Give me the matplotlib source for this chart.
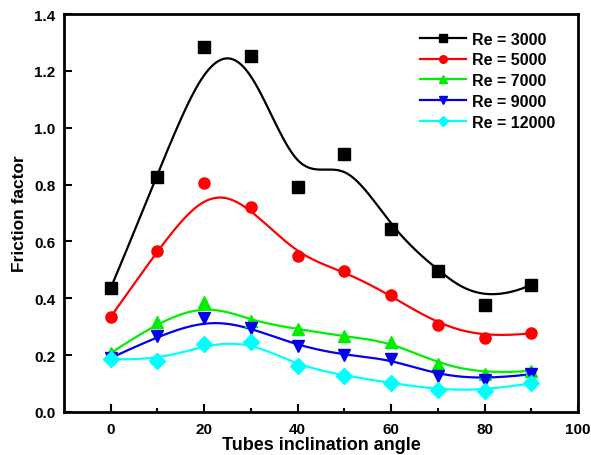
import numpy as np
import matplotlib.pyplot as plt

plt.rcParams['font.family'] = ['Liberation Sans', 'DejaVu Sans']
plt.rcParams['font.weight'] = 'bold'

# data
angle = [0, 10, 20, 30, 40, 50, 60, 70, 80, 90]
re_labels = ['Re = 3000', 'Re = 5000', 'Re = 7000', 'Re = 9000', 'Re = 12000']
f_3000 = [0.436, 0.827, 1.284, 1.252, 0.790, 0.907, 0.645, 0.495, 0.376, 0.447]
f_5000 = [0.335, 0.566, 0.805, 0.720, 0.548, 0.495, 0.410, 0.306, 0.260, 0.277]
f_7000 = [0.207, 0.316, 0.388, 0.320, 0.292, 0.266, 0.247, 0.168, 0.133, 0.145]
f_9000 = [0.190, 0.266, 0.330, 0.297, 0.233, 0.200, 0.186, 0.128, 0.114, 0.133]
f_12000 = [0.186, 0.180, 0.240, 0.247, 0.163, 0.128, 0.102, 0.078, 0.075, 0.101]

series = [f_3000, f_5000, f_7000, f_9000, f_12000]
colors = ['black', 'red', '#00ee00', '#0000ee', 'cyan']
markers = ['s', 'o', '^', 'v', 'D']


def bspline(px, py, num=300):
    # clamped cubic B-spline using the data points as control points
    px = np.asarray(px, float)
    py = np.asarray(py, float)
    n = len(px)
    k = 3
    knots = np.concatenate([np.zeros(k), np.arange(n - k + 1), np.full(k, n - k)])
    t = np.linspace(0, n - k, num)
    t[-1] -= 1e-9
    # Cox-de Boor recursion
    B = np.zeros((len(knots) - 1, num))
    for i in range(len(knots) - 1):
        B[i] = (knots[i] <= t) & (t < knots[i + 1])
    for d in range(1, k + 1):
        Bn = np.zeros((len(knots) - 1 - d, num))
        for i in range(len(knots) - 1 - d):
            a = knots[i + d] - knots[i]
            b = knots[i + d + 1] - knots[i + 1]
            left = (t - knots[i]) / a * B[i] if a > 0 else 0
            right = (knots[i + d + 1] - t) / b * B[i + 1] if b > 0 else 0
            Bn[i] = left + right
        B = Bn
    return px @ B, py @ B


fig = plt.figure(figsize=(5.91, 4.56), dpi=100)
ax = fig.add_axes([0.1083, 0.0943, 0.8697, 0.8727])

handles = []
for y, c, m, lab in zip(series, colors, markers, re_labels):
    sx, sy = bspline(angle, y)
    ax.plot(sx, sy, color=c, lw=1.6, zorder=2)
    ax.plot(angle, y, linestyle='none', marker=m, color=c, ms=8 if m != 'D' else 8.5,
            zorder=3)
    h, = ax.plot([], [], color=c, lw=1.6, marker=m, ms=5.5, label=lab)
    handles.append(h)

ax.set_xlim(-10, 100)
ax.set_ylim(0, 1.4)
ax.set_xticks([0, 20, 40, 60, 80, 100])
ax.set_xticks([10, 30, 50, 70, 90], minor=True)
ax.set_yticks(np.arange(0, 1.41, 0.2))
ax.set_yticklabels([f'{v:.1f}' for v in np.arange(0, 1.41, 0.2)])
ax.tick_params(which='both', direction='in', width=1.5, labelsize=11)
ax.tick_params(which='major', length=6)
ax.tick_params(which='minor', length=3)
ax.tick_params(axis='x', pad=7)
ax.tick_params(axis='y', pad=6)
for s in ax.spines.values():
    s.set_linewidth(2)

ax.set_xlabel('Tubes inclination angle', fontsize=13, fontweight='bold', labelpad=0)
ax.set_ylabel('Friction factor', fontsize=12.5, fontweight='bold', labelpad=5)

ax.legend(handles=handles, loc='upper left', bbox_to_anchor=(0.68, 0.972), frameon=False,
          fontsize=11.5, handlelength=2.9, handletextpad=0.35, labelspacing=0.36,
          borderaxespad=0)

plt.savefig('out.png', dpi=100)
